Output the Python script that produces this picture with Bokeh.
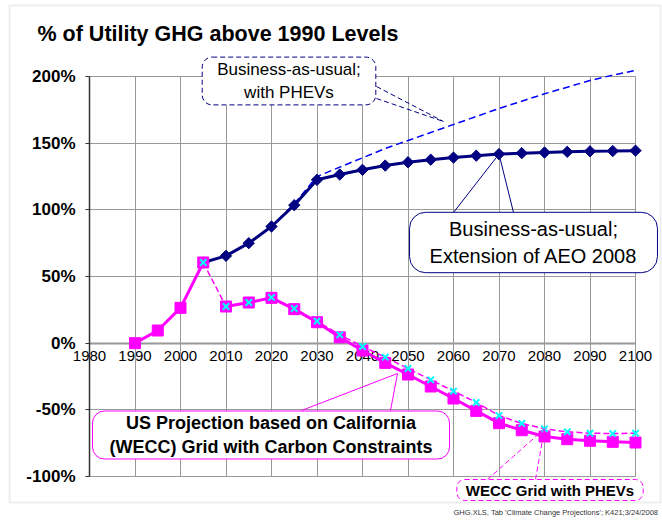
from bokeh.plotting import figure
from bokeh.models import (Range1d, Label, Arrow, PolyAnnotation, FixedTicker,
                          CustomJSTickFormatter)
from bokeh.embed import file_html
from bokeh.resources import INLINE

# ---------------- data ----------------
title_text = "% of Utility GHG above 1990 Levels"
x_ticks = [1980, 1990, 2000, 2010, 2020, 2030, 2040, 2050, 2060, 2070, 2080, 2090, 2100]
y_ticks = [-100, -50, 0, 50, 100, 150, 200]

proj_years = [2005, 2010, 2015, 2020, 2025, 2030, 2035, 2040, 2045, 2050,
              2055, 2060, 2065, 2070, 2075, 2080, 2085, 2090, 2095, 2100]
bau_aeo = [60.5, 65.5, 75.0, 87.5, 103.5, 122.5, 126.5, 130.0, 133.2, 135.7,
           137.6, 139.2, 140.6, 141.8, 142.5, 143.0, 143.5, 143.9, 144.1, 144.4]
bau_phev = [60.5, 65.5, 75.0, 87.5, 104.5, 125.0, 132.0, 139.0, 146.0, 152.0,
            158.0, 164.0, 170.0, 176.0, 181.5, 187.0, 192.0, 197.0, 201.0, 204.5]

us_hist_years = [1990, 1995, 2000, 2005]
us_hist = [0.0, 9.5, 26.5, 60.5]
us_proj_years = [2010, 2015, 2020, 2025, 2030, 2035, 2040, 2045, 2050,
                 2055, 2060, 2065, 2070, 2075, 2080, 2085, 2090, 2095, 2100]
us_proj = [27.5, 30.5, 34.0, 25.5, 15.7, 4.4, -5.5, -14.8, -23.5,
           -32.5, -41.5, -50.8, -60.0, -65.3, -70.0, -72.0, -73.2, -74.0, -74.5]
wecc_phev = [60.5, 27.5, 30.5, 34.3, 26.0, 16.5, 6.3, -2.5, -10.5, -19.0,
             -27.5, -36.0, -44.5, -54.3, -60.2, -64.2, -66.5, -67.5, -67.8, -67.5]

footnote = "GHG.XLS, Tab 'Climate Change Projections'; K421;3/24/2008"

# ---------------- layout helpers (picture px -> data) ----------------
X0, X1, Y0, Y1 = 1980, 2100, -100, 200
PX0, PX1, PY0, PY1 = 89, 635, 476, 76


def dx(px):
    return X0 + (px - PX0) * (X1 - X0) / (PX1 - PX0)


def dy(py):
    return Y0 + (py - PY0) * (Y1 - Y0) / (PY1 - PY0)


FONT = "Liberation Sans"
NAVY = "#000080"
BLUE = "#0000FF"
MAG = "#FF00FF"
CYAN = "#00FFFF"
GRID = "#999999"
AXIS = "#333333"

W, H = 662, 521
p = figure(width=W, height=H,
           x_range=Range1d(dx(0), dx(W)), y_range=Range1d(dy(H), dy(0)),
           output_backend="svg", toolbar_location=None,
           min_border_left=0, min_border_right=0, min_border_top=0, min_border_bottom=0)
p.background_fill_color = "white"
p.border_fill_color = "white"
p.outline_line_color = None

# grid, limited to the plot area
ex = 0.01
p.xgrid.ticker = FixedTicker(ticks=x_ticks)
p.xgrid.bounds = (X0 - ex, X1 + ex)
p.xgrid.cross_bounds = (Y0, Y1)
p.ygrid.ticker = FixedTicker(ticks=y_ticks)
p.ygrid.bounds = (Y0 - ex, Y1 + ex)
p.ygrid.cross_bounds = (X0, X1)
p.grid.grid_line_color = GRID
p.grid.grid_line_width = 1
p.grid.grid_line_alpha = 1.0

# x axis crossing at y = 0
xa = p.xaxis[0]
xa.fixed_location = 0
xa.bounds = (X0, X1)
xa.ticker = FixedTicker(ticks=x_ticks)
xa.major_label_text_font = FONT
xa.major_label_text_font_size = "15px"
xa.major_label_text_color = "black"
xa.major_tick_out = 5
xa.major_tick_in = 0
xa.minor_tick_out = 0
xa.minor_tick_in = 0
xa.major_label_standoff = 3
xa.axis_line_color = AXIS
xa.axis_line_width = 1.5
xa.major_tick_line_color = AXIS
xa.level = "underlay"

ya = p.yaxis[0]
ya.fixed_location = X0
ya.bounds = (Y0, Y1)
ya.ticker = FixedTicker(ticks=y_ticks)
ya.formatter = CustomJSTickFormatter(code="return tick + '%';")
ya.major_label_text_font = FONT
ya.major_label_text_font_size = "17px"
ya.major_label_text_font_style = "bold"
ya.major_label_text_color = "black"
ya.major_tick_out = 4
ya.major_tick_in = 0
ya.minor_tick_out = 0
ya.minor_tick_in = 0
ya.major_label_standoff = 10
ya.axis_line_color = AXIS
ya.axis_line_width = 1.5
ya.major_tick_line_color = AXIS

# ---------------- series ----------------
p.line(proj_years, bau_phev, line_color=BLUE, line_width=1.5, line_dash="7 4")

p.line(proj_years, bau_aeo, line_color=NAVY, line_width=3)
p.scatter(proj_years, bau_aeo, marker="square", angle=0.7854, size=8,
          fill_color=NAVY, line_color=NAVY)

p.line(us_hist_years, us_hist, line_color=MAG, line_width=3)
p.line(us_proj_years, us_proj, line_color=MAG, line_width=3)
p.scatter(us_hist_years, us_hist, marker="square", size=11, fill_color=MAG, line_color=MAG)
p.scatter(us_proj_years, us_proj, marker="square", size=11, fill_color=MAG, line_color=MAG)

p.line(proj_years, wecc_phev, line_color=MAG, line_width=1.5, line_dash="6 3")
p.scatter(proj_years, wecc_phev, marker="x", size=9, line_color=CYAN, line_width=2)

# ---------------- outer border ----------------
p.add_layout(PolyAnnotation(xs=[dx(9), dx(660), dx(660), dx(9)],
                            ys=[dy(5), dy(5), dy(502), dy(502)],
                            fill_alpha=0, line_color="#c8c8c8", line_width=2))

# ---------------- title ----------------
p.add_layout(Label(x=dx(37), y=dy(33), text=title_text, text_font=FONT,
                   text_font_size="21.5px", text_font_style="bold",
                   text_align="left", text_baseline="middle", text_color="black"))


def callout(cx, cy, text, size, style, color, dash, radius, padx, pady, tails, tip):
    for (bx, by) in tails:
        p.add_layout(Arrow(end=None, x_start=dx(bx), y_start=dy(by), x_end=tip[0], y_end=tip[1],
                           line_color=color, line_width=1, line_dash=dash))
    p.add_layout(Label(x=dx(cx), y=dy(cy), text=text, text_font=FONT, text_font_size=size,
                       text_font_style=style, text_align="center", text_baseline="middle",
                       text_color="black", background_fill_color="white",
                       border_line_color=color, border_line_width=1, border_line_dash=dash,
                       border_radius=radius,
                       padding=dict(left=padx, right=padx, top=pady, bottom=pady)))


callout(288.5, 80.5, "Business-as-usual;\nwith PHEVs", "17px", "normal", NAVY, "5 3", 10, 15, 3,
        [(376, 86), (376, 98)], (dx(443), dy(121)))
callout(533, 242, "Business-as-usual;\nExtension of AEO 2008", "20px", "normal", NAVY, "solid", 16, 20, 6,
        [(453, 212), (513, 212)], (proj_years[13], bau_aeo[13]))
callout(270.5, 434.5, "US Projection based on California\n(WECC) Grid with Carbon Constraints", "18px",
        "bold", MAG, "solid", 12, 17, 2,
        [(301, 410), (390, 410)], (dx(397), dy(373)))
callout(549.5, 489.5, "WECC Grid with PHEVs", "15px", "bold", MAG, "5 3", 8, 9, 2,
        [(487, 479), (535, 479)], (proj_years[15], wecc_phev[15]))

# footnote
p.add_layout(Label(x=dx(453), y=dy(512), text=footnote, text_font=FONT, text_font_size="7.5px",
                   text_align="left", text_baseline="middle", text_color="#333333"))

open("out.html", "w").write(file_html(p, INLINE))
